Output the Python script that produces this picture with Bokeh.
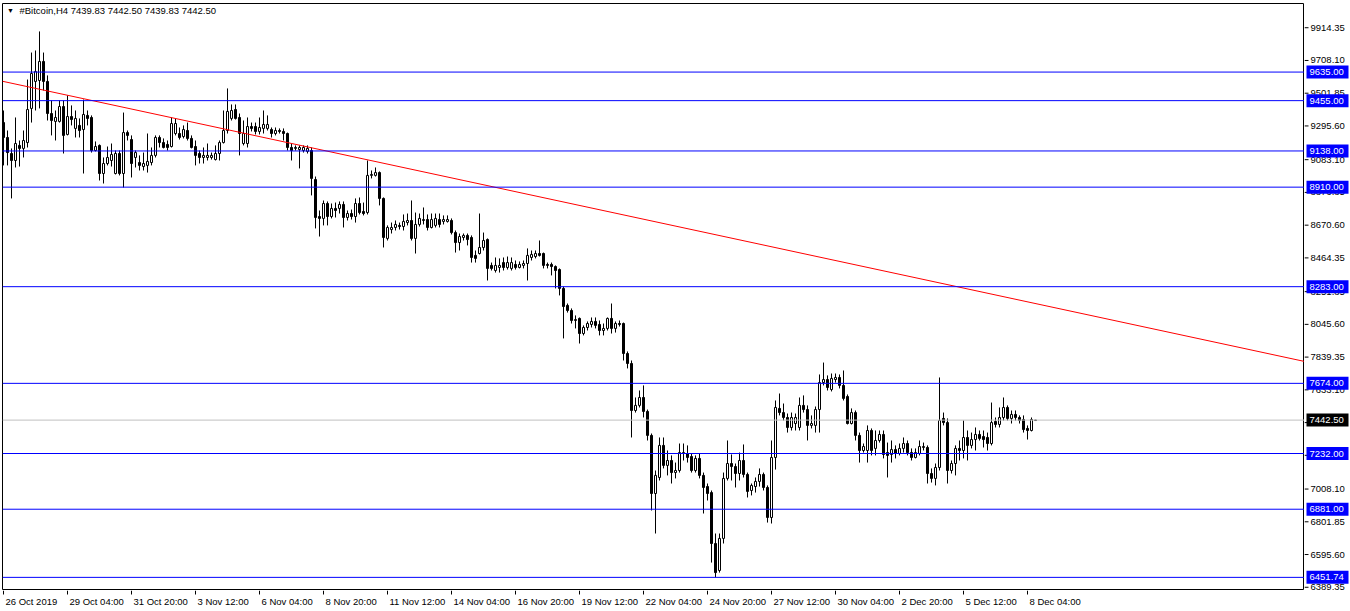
from bokeh.plotting import figure
from bokeh.models import Span, Label, ColumnDataSource, Range1d
from bokeh.layouts import column, row
from bokeh.core.properties import value
from bokeh.embed import file_html
from bokeh.resources import INLINE

# ---- H4 candles, 26 Oct 2019 12:00 .. 8 Dec 2019 12:00 (bar index 0..258) ----
O = [
    9317, 9223, 9122, 9078, 9173, 9154, 9191, 9406, 9576, 9582,
    9702, 9576, 9374, 9324, 9324, 9418, 9242, 9355, 9280, 9299,
    9273, 9362, 9349, 9141, 9173, 8996, 9059, 9078, 8996, 9122,
    8996, 9254, 9210, 9097, 9065, 9040, 9047, 9065, 9110, 9223,
    9191, 9179, 9166, 9248, 9248, 9229, 9267, 9217, 9166, 9122,
    9097, 9097, 9097, 9084, 9122, 9191, 9267, 9343, 9399, 9349,
    9185, 9185, 9292, 9292, 9261, 9280, 9280, 9273, 9248, 9267,
    9261, 9248, 9160, 9154, 9147, 9141, 9135, 9141, 8958, 8725,
    8713, 8807, 8725, 8776, 8776, 8801, 8719, 8744, 8725, 8807,
    8757, 8750, 8984, 8984, 9002, 8839, 8587, 8643, 8656, 8669,
    8662, 8687, 8700, 8587, 8675, 8700, 8706, 8656, 8669, 8706,
    8694, 8694, 8700, 8624, 8561, 8593, 8606, 8593, 8480, 8492,
    8530, 8580, 8417, 8385, 8404, 8435, 8404, 8398, 8423, 8404,
    8417, 8429, 8467, 8473, 8492, 8492, 8423, 8423, 8410, 8391,
    8272, 8165, 8133, 8070, 8083, 7988, 8026, 8045, 8064, 8045,
    8007, 8020, 8083, 8020, 8051, 8051, 7862, 7799, 7503, 7535,
    7585, 7497, 7346, 6980, 7081, 7283, 7157, 7188, 7112, 7125,
    7232, 7232, 7213, 7125, 7201, 7094, 7024, 6986, 6665, 6495,
    6697, 7075, 7169, 7150, 7106, 7188, 7100, 6999, 7024, 7056,
    7100, 7018, 6829, 7207, 7516, 7490, 7459, 7396, 7421, 7396,
    7535, 7509, 7409, 7409, 7509, 7679, 7698, 7635, 7698, 7711,
    7661, 7591, 7421, 7490, 7346, 7251, 7251, 7377, 7264, 7314,
    7352, 7238, 7226, 7257, 7232, 7264, 7295, 7238, 7207, 7232,
    7270, 7270, 7106, 7075, 7144, 7453, 7427, 7125, 7169, 7264,
    7251, 7333, 7283, 7320, 7352, 7339, 7333, 7295, 7434, 7415,
    7459, 7522, 7453, 7478, 7459, 7446, 7390, 7377, 7439.83,
]
H = [
    9393, 9267, 9154, 9349, 9204, 9267, 9588, 9758, 9771, 9891,
    9758, 9614, 9456, 9393, 9456, 9456, 9488, 9425, 9393, 9343,
    9462, 9393, 9362, 9198, 9179, 9097, 9166, 9185, 9141, 9141,
    9380, 9267, 9236, 9141, 9110, 9128, 9248, 9160, 9236, 9236,
    9217, 9204, 9349, 9343, 9286, 9299, 9317, 9236, 9204, 9141,
    9160, 9185, 9128, 9173, 9204, 9393, 9532, 9431, 9431, 9374,
    9330, 9349, 9317, 9317, 9349, 9393, 9362, 9286, 9286, 9280,
    9280, 9254, 9185, 9173, 9173, 9173, 9173, 9160, 8977, 8763,
    8826, 8820, 8807, 8813, 8820, 8820, 8763, 8769, 8839, 8845,
    8813, 9078, 9015, 9034, 9009, 8845, 8669, 8687, 8700, 8687,
    8738, 8744, 8826, 8750, 8744, 8782, 8738, 8744, 8744, 8744,
    8732, 8732, 8713, 8637, 8618, 8618, 8618, 8606, 8511, 8744,
    8624, 8587, 8435, 8467, 8461, 8467, 8473, 8467, 8448, 8442,
    8448, 8524, 8511, 8511, 8574, 8498, 8435, 8435, 8417, 8398,
    8284, 8177, 8146, 8102, 8089, 8039, 8064, 8089, 8089, 8070,
    8051, 8089, 8177, 8064, 8070, 8057, 7875, 7818, 7585, 7629,
    7661, 7509, 7358, 7125, 7333, 7333, 7251, 7220, 7175, 7295,
    7295, 7283, 7232, 7220, 7232, 7112, 7043, 6999, 6728, 6728,
    7112, 7314, 7226, 7169, 7238, 7289, 7112, 7043, 7081, 7138,
    7112, 7031, 7314, 7566, 7610, 7547, 7484, 7490, 7484, 7585,
    7598, 7535, 7472, 7528, 7730, 7805, 7724, 7736, 7736, 7730,
    7755, 7604, 7516, 7503, 7364, 7295, 7409, 7390, 7377, 7377,
    7377, 7301, 7314, 7283, 7295, 7333, 7314, 7264, 7264, 7314,
    7301, 7283, 7138, 7169, 7711, 7490, 7453, 7188, 7283, 7314,
    7440, 7377, 7364, 7396, 7377, 7377, 7364, 7553, 7459, 7522,
    7585, 7535, 7503, 7503, 7472, 7472, 7409, 7459, 7442.50,
]
L = [
    9047, 9047, 8839, 9034, 9040, 9097, 9160, 9317, 9393, 9406,
    9519, 9330, 9236, 9204, 9317, 9122, 9236, 9299, 9223, 9223,
    8996, 9299, 9128, 9135, 8952, 8933, 9047, 9040, 8990, 8984,
    8908, 9204, 8971, 9034, 9015, 9015, 9002, 9047, 9097, 9160,
    9154, 9141, 9160, 9236, 9210, 9217, 9204, 9154, 9047, 9059,
    9059, 9078, 9084, 9078, 9078, 9185, 9248, 9330, 9336, 9110,
    9173, 9160, 9261, 9242, 9242, 9248, 9267, 9223, 9236, 9248,
    9204, 9141, 9078, 9141, 9028, 9128, 9122, 8858, 8650, 8599,
    8669, 8669, 8713, 8719, 8744, 8656, 8700, 8706, 8687, 8738,
    8732, 8738, 8965, 8977, 8795, 8530, 8574, 8618, 8637, 8643,
    8637, 8669, 8574, 8492, 8662, 8675, 8637, 8650, 8656, 8656,
    8675, 8687, 8612, 8498, 8511, 8574, 8543, 8435, 8435, 8486,
    8511, 8322, 8385, 8372, 8372, 8385, 8391, 8385, 8391, 8398,
    8398, 8322, 8448, 8461, 8473, 8398, 8398, 8354, 8272, 8228,
    7957, 8120, 8051, 8020, 7925, 7976, 8007, 8026, 8020, 7976,
    7976, 8007, 7988, 7994, 8032, 7818, 7768, 7333, 7490, 7522,
    7459, 7314, 6873, 6728, 7062, 7138, 7094, 7043, 7075, 7112,
    7188, 7175, 7112, 7112, 7075, 6854, 6936, 6545, 6451, 6482,
    6665, 7062, 7062, 7018, 7062, 7081, 6955, 6968, 6986, 7024,
    6999, 6797, 6791, 7131, 7472, 7440, 7364, 7377, 7377, 7377,
    7490, 7314, 7390, 7364, 7364, 7661, 7629, 7623, 7679, 7642,
    7566, 7415, 7415, 7314, 7175, 7238, 7175, 7220, 7220, 7301,
    7201, 7081, 7175, 7201, 7220, 7238, 7220, 7188, 7201, 7220,
    7251, 7043, 7049, 7031, 7125, 7409, 7043, 7106, 7094, 7188,
    7201, 7188, 7264, 7251, 7314, 7270, 7251, 7283, 7396, 7396,
    7440, 7440, 7421, 7440, 7421, 7364, 7320, 7371, 7439.83,
]
C = [
    9223, 9128, 9078, 9185, 9154, 9204, 9399, 9626, 9639, 9702,
    9576, 9374, 9330, 9349, 9418, 9236, 9355, 9336, 9343, 9267,
    9368, 9343, 9141, 9166, 8996, 9059, 9097, 9116, 9122, 8996,
    9254, 9236, 9059, 9128, 9047, 9059, 9072, 9110, 9223, 9191,
    9160, 9160, 9311, 9311, 9223, 9273, 9217, 9160, 9110, 9097,
    9110, 9110, 9110, 9122, 9191, 9267, 9387, 9393, 9343, 9248,
    9248, 9292, 9280, 9261, 9286, 9305, 9305, 9248, 9267, 9261,
    9248, 9160, 9141, 9160, 9160, 9160, 9154, 8965, 8719, 8713,
    8807, 8725, 8776, 8763, 8801, 8719, 8744, 8725, 8807, 8750,
    8744, 8984, 8990, 9002, 8839, 8593, 8656, 8656, 8675, 8662,
    8694, 8700, 8587, 8675, 8713, 8706, 8656, 8706, 8713, 8675,
    8706, 8706, 8624, 8561, 8599, 8606, 8580, 8467, 8461, 8530,
    8574, 8398, 8398, 8417, 8417, 8404, 8435, 8435, 8404, 8423,
    8429, 8480, 8486, 8492, 8480, 8417, 8417, 8410, 8385, 8272,
    8158, 8133, 8070, 8076, 7988, 8026, 8051, 8064, 8039, 8007,
    8020, 8083, 8020, 8051, 8045, 7862, 7799, 7503, 7535, 7585,
    7497, 7346, 6980, 7094, 7283, 7157, 7188, 7112, 7125, 7238,
    7238, 7207, 7125, 7201, 7094, 7018, 6980, 6665, 6482, 6697,
    7075, 7169, 7150, 7106, 7188, 7100, 6993, 7031, 7056, 7100,
    7018, 6829, 7207, 7522, 7490, 7459, 7396, 7459, 7459, 7535,
    7509, 7409, 7421, 7509, 7679, 7698, 7648, 7705, 7711, 7661,
    7579, 7421, 7490, 7346, 7251, 7276, 7377, 7251, 7314, 7352,
    7226, 7220, 7257, 7232, 7264, 7295, 7238, 7207, 7238, 7276,
    7276, 7106, 7075, 7144, 7440, 7427, 7125, 7169, 7264, 7251,
    7333, 7283, 7320, 7352, 7327, 7320, 7295, 7427, 7415, 7459,
    7522, 7453, 7478, 7459, 7440, 7383, 7377, 7446, 7442.50,
]

# horizontal levels drawn on the chart
levels = [9635.00, 9455.00, 9138.00, 8910.00, 8283.00, 7674.00, 7232.00, 6881.00, 6451.74]
bid_price = 7442.50
header = "#Bitcoin,H4  7439.83 7442.50 7439.83 7442.50"

# red trend line anchors (bar index, price)
trend_x = [-0.25, 325.25]
trend_y = [9577, 7812]

# price-scale labels
ytick_vals = [9914.35, 9708.10, 9501.85, 9295.60, 9083.10, 8876.85, 8670.60, 8464.35,
              8251.85, 8045.60, 7839.35, 7633.10, 7426.85, 7220.60, 7008.10, 6801.85,
              6595.60, 6389.35]
# time-scale labels (bar index -> text)
xtick_bars = [0, 16, 32, 48, 64, 80, 96, 112, 128, 144, 160, 176, 192, 208, 224, 240, 256]
xtick_labels = ["26 Oct 2019", "29 Oct 04:00", "31 Oct 20:00", "3 Nov 12:00", "6 Nov 04:00",
                "8 Nov 20:00", "11 Nov 12:00", "14 Nov 04:00", "16 Nov 20:00", "19 Nov 12:00",
                "22 Nov 04:00", "24 Nov 20:00", "27 Nov 12:00", "30 Nov 04:00", "2 Dec 20:00",
                "5 Dec 12:00", "8 Dec 04:00"]

n = min(len(O), len(H), len(L), len(C))
idx = list(range(n))
src = ColumnDataSource(dict(
    x=idx, h=H[:n], l=L[:n],
    top=[max(O[i], C[i]) for i in idx],
    bot=[min(O[i], C[i]) for i in idx],
    fill=["white" if C[i] >= O[i] else "black" for i in idx],
))

FONT = "Liberation Sans"
FS = "9.5px"
X_START, X_END = -0.25, 325.25
Y_START, Y_END = 6369, 10067
MAIN_W, MAIN_H, SCALE_W, TIME_H = 1304, 590, 46, 21
TOP_PAD, LEFT_PAD = 3, 2
FULL_H = MAIN_H + TIME_H

# ---------------- main chart ----------------
p = figure(width=MAIN_W, height=MAIN_H, x_range=(X_START, X_END), y_range=(Y_START, Y_END),
           x_axis_location=None, y_axis_location=None, toolbar_location=None,
           output_backend="svg", min_border_left=LEFT_PAD, min_border_right=0,
           min_border_top=TOP_PAD, min_border_bottom=0)
p.grid.visible = False
p.outline_line_color = "black"
p.outline_line_width = 1
p.background_fill_color = "white"
p.border_fill_color = "white"

for v in levels:
    p.add_layout(Span(location=v, dimension="width", line_color="#0000FF", line_width=1))
p.add_layout(Span(location=bid_price, dimension="width", line_color="#C0C0C0", line_width=1))

p.segment("x", "l", "x", "h", source=src, line_color="black", line_width=1)
p.vbar(x="x", width=0.5, top="top", bottom="bot", fill_color="fill",
       line_color="black", line_width=1, source=src)

p.line(trend_x, trend_y, line_color="#FF0000", line_width=1)

p.add_layout(Label(x=X_START, y=Y_END, x_offset=8, y_offset=-7, text="\u25bc", text_align="center",
                   text_baseline="middle", text_color="black", text_font=FONT,
                   text_font_size="7px"))
p.add_layout(Label(x=X_START, y=Y_END, x_offset=17, y_offset=-7, text=header, text_align="left",
                   text_baseline="middle", text_color="black", text_font=FONT,
                   text_font_size=FS))

# ---------------- price scale (right), same price mapping, full page height ----------------
price_per_px = (Y_END - Y_START) / (MAIN_H - TOP_PAD)
s_range = Range1d(Y_END - (FULL_H - TOP_PAD) * price_per_px, Y_END)
s = figure(width=SCALE_W, height=FULL_H, x_range=(0, SCALE_W), y_range=s_range,
           x_axis_location=None, y_axis_location=None, toolbar_location=None,
           output_backend="svg", min_border_left=0, min_border_right=0,
           min_border_top=TOP_PAD, min_border_bottom=0)
s.grid.visible = False
s.outline_line_color = None
s.background_fill_color = "white"
s.border_fill_color = "white"

s.segment(x0=0, y0=ytick_vals, x1=4, y1=ytick_vals, line_color="black", line_width=1)
s.text(x=6, y=ytick_vals, text=[f"{v:.2f}" for v in ytick_vals], text_font=value(FONT),
       text_font_size=FS, text_baseline="middle", text_align="left", text_color="black")

half_box = 6.5 * price_per_px
s.quad(left=2, right=44, top=[v + half_box for v in levels], bottom=[v - half_box for v in levels],
       fill_color="#0000FF", line_color=None)
s.text(x=5, y=levels, text=[f"{v:.2f}" for v in levels], text_font=value(FONT),
       text_font_size=FS, text_baseline="middle", text_align="left", text_color="white")
s.quad(left=2, right=44, top=[bid_price + half_box], bottom=[bid_price - half_box],
       fill_color="black", line_color=None)
s.text(x=5, y=[bid_price], text=[f"{bid_price:.2f}"], text_font=value(FONT),
       text_font_size=FS, text_baseline="middle", text_align="left", text_color="white")

# ---------------- time scale (bottom) ----------------
t = figure(width=MAIN_W, height=TIME_H, x_range=p.x_range, y_range=(0, TIME_H),
           x_axis_location=None, y_axis_location=None, toolbar_location=None,
           output_backend="svg", min_border_left=LEFT_PAD, min_border_right=0,
           min_border_top=0, min_border_bottom=0)
t.grid.visible = False
t.outline_line_color = None
t.background_fill_color = "white"
t.border_fill_color = "white"
t.segment(x0=xtick_bars, y0=TIME_H, x1=xtick_bars, y1=TIME_H - 4, line_color="black", line_width=1)
t.text(x=xtick_bars, y=TIME_H - 10.5, x_offset=2, text=xtick_labels, text_font=value(FONT),
       text_font_size=FS, text_baseline="middle", text_align="left", text_color="black")

layout = row(column(p, t), s)
open("out.html", "w").write(file_html(layout, INLINE))
